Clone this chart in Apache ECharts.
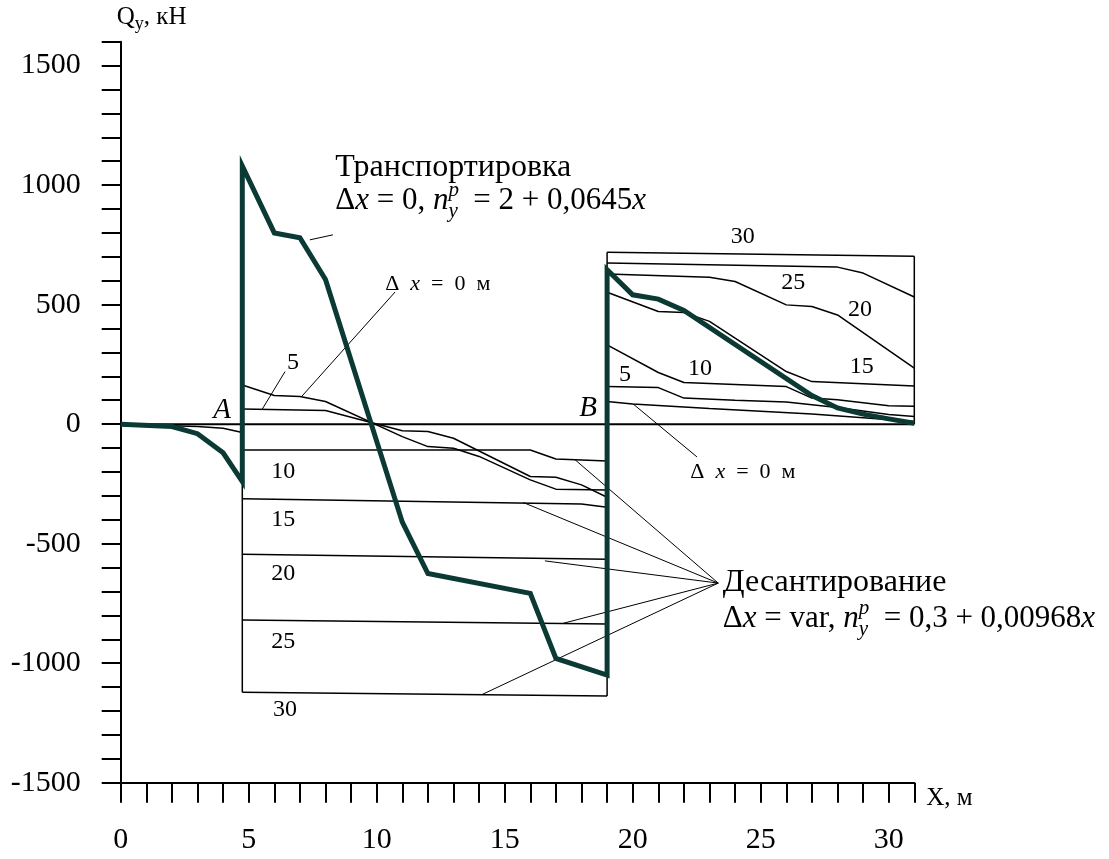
<!DOCTYPE html>
<html>
<head>
<meta charset="utf-8">
<script src="https://cdn.jsdelivr.net/npm/echarts@6/dist/echarts.min.js"></script>
<style>
  html, body { margin: 0; padding: 0; background: #fff; }
  #chart { width: 1109px; height: 859px; }
</style>
</head>
<body>
<div id="chart"></div>
<script>
const SERIF = "'Liberation Serif', 'Times New Roman', serif";

// Транспортировка (Δx = 0): shear force Q, kN, along X, m
const transportX = [0, 2, 3, 4, 4.75, 4.75, 6, 7, 8, 11, 12, 16, 17, 19, 19, 20, 21, 22, 27, 28, 29, 30, 31];
const transportQ = [0, -10, -40, -120, -240, 1080, 800, 780, 605, -410, -625, -708, -980, -1050, 646, 541, 523, 476, 120, 68, 42, 22, 4];

// Десантирование before support A
const preAX = [0, 3, 4, 4.75];
const preAQ = [0, -10, -17, -35];

// Десантирование between A and B, for Δx = 0, 5, 10, 15, 20, 25, 30 m
const abX0 = [4.75, 6, 7, 8, 11, 12, 13, 14, 16, 17, 19];
const abQ0 = [164, 120, 116, 95, -52, -94, -101, -135, -233, -272, -275];
const abX5 = [4.75, 8, 11, 12, 13, 16, 17, 18, 19];
const abQ5 = [63, 57, -28, -31, -59, -219, -222, -254, -306];
const abX10 = [4.75, 16, 17, 19];
const abQ10 = [-108, -108, -146, -154];
const abX15 = [4.75, 18, 19];
const abQ15 = [-312, -334, -348];
const abX20 = [4.75, 19];
const abQ20 = [-544, -565];
const abX25 = [4.75, 19];
const abQ25 = [-819, -836];
const abX30 = [4.75, 19];
const abQ30 = [-1122, -1137];

// Десантирование beyond B (cantilever end), for Δx = 0 … 30 m
const bX0 = [19, 20, 23, 27, 31];
const bQ0 = [95, 84, 65, 42, 11];
const bX5 = [19, 21, 22, 24, 26, 28, 30, 31];
const bQ5 = [157, 153, 109, 100, 93, 70, 40, 32];
const bX10 = [19, 21, 22, 26, 27, 28, 30, 31];
const bQ10 = [332, 216, 174, 157, 109, 102, 77, 75];
const bX15 = [19, 21, 22, 23, 26, 27, 31];
const bQ15 = [552, 471, 467, 430, 220, 178, 160];
const bX20 = [19, 23, 24, 26, 27, 28, 31];
const bQ20 = [628, 615, 597, 499, 492, 457, 234];
const bX25 = [19, 28, 29, 31];
const bQ25 = [674, 657, 632, 532];
const bX30 = [19, 31];
const bQ30 = [719, 702];

// Axis ranges and tick steps
const xMin = 0, xMax = 31, xStep = 1, xLabelStep = 5;
const qMin = -1500, qMax = 1600, qStep = 100, qLabelStep = 500;

// Leader lines (pairs of [X, Q] points)
const leaderTransport = [[7.39, 771], [8.29, 792]];
const leaderZeroAB = [[7.07, 116], [10.72, 553]];
const leaderFiveAB = [[5.53, 63], [6.42, 220]];
const leaderZeroB = [[20.01, 85], [22.51, -137]];
const landingHub = [23.34, -665];
const landingFrom = [[17.75, -149], [15.73, -328], [16.57, -572], [17.29, -833], [14.1, -1132]];

const pts = (xs, ys) => xs.map((x, i) => [x, ys[i]]);
const last = a => a[a.length - 1];

const thin = { color: '#000', width: 1.5 };
const hair = { color: '#000', width: 1 };

function line(name, data, style, z) {
  return {
    name, type: 'line', data, symbol: 'none', silent: true,
    lineStyle: style, z: z || 2, animation: false
  };
}

const series = [];

// zero line
series.push(line('zero', [[xMin, 0], [xMax, 0]], { color: '#000', width: 2 }, 1));

// landing curves
const ab = [[abX0, abQ0], [abX5, abQ5], [abX10, abQ10], [abX15, abQ15], [abX20, abQ20], [abX25, abQ25], [abX30, abQ30]];
const bb = [[bX0, bQ0], [bX5, bQ5], [bX10, bQ10], [bX15, bQ15], [bX20, bQ20], [bX25, bQ25], [bX30, bQ30]];
ab.forEach(([xs, qs], i) => series.push(line('ab' + i, pts(xs, qs), thin)));
bb.forEach(([xs, qs], i) => series.push(line('b' + i, pts(xs, qs), thin)));
series.push(line('preA', pts(preAX, preAQ), thin));

// frame verticals at the supports and at the end
series.push(line('frameA', [[abX0[0], abQ0[0]], [abX30[0], abQ30[0]]], thin));
series.push(line('frameB1', [[last(abX30), last(abQ30)], [last(abX0), last(abQ0)]], thin));
series.push(line('frameB2', [[bX30[0], bQ30[0]], [bX0[0], bQ0[0]]], thin));
series.push(line('frameEnd', [[last(bX30), last(bQ30)], [last(bX30), 0]], thin));

// leaders
series.push(line('ldT', leaderTransport, hair));
series.push(line('ldZ1', leaderZeroAB, hair));
series.push(line('ldF', leaderFiveAB, hair));
series.push(line('ldZ2', leaderZeroB, hair));
landingFrom.forEach((p, i) => series.push(line('ldL' + i, [p, landingHub], hair)));

// transport curve
series.push(line('transport', pts(transportX, transportQ),
  { color: '#0b3a35', width: 5, join: 'miter', miterLimit: 20 }, 5));

// text annotations
const formulaRich = {
  m: { fontFamily: SERIF, fontSize: 31, color: '#000', lineHeight: 42 },
  i: { fontFamily: SERIF, fontSize: 31, color: '#000', fontStyle: 'italic', lineHeight: 42 },
  sp: { fontFamily: SERIF, fontSize: 21, color: '#000', fontStyle: 'italic', verticalAlign: 'top', lineHeight: 24, width: 0 },
  sb: { fontFamily: SERIF, fontSize: 21, color: '#000', fontStyle: 'italic', verticalAlign: 'bottom', lineHeight: 24 }
};
const smallRich = {
  m: { fontFamily: SERIF, fontSize: 22, color: '#000' },
  i: { fontFamily: SERIF, fontSize: 22, color: '#000', fontStyle: 'italic' }
};

function note(x, q, text, opt) {
  return {
    value: [x, q],
    label: Object.assign({
      show: true, formatter: text, color: '#000', fontFamily: SERIF,
      position: 'right', distance: 0
    }, opt)
  };
}

const notes = [
  note(8.38, 1074, 'Транспортировка', { fontSize: 32 }),
  note(8.38, 935, '{m|Δ}{i|x}{m| = 0, }{i|n}{sp|p}{sb|y}{m|  = 2 + 0,0645}{i|x}', { rich: formulaRich }),
  note(23.52, -664, 'Десантирование', { fontSize: 32 }),
  note(23.52, -815, '{m|Δ}{i|x}{m| = var, }{i|n}{sp|p}{sb|y}{m|  = 0,3 + 0,00968}{i|x}', { rich: formulaRich }),
  note(10.33, 587, '{m|Δ  }{i|x}{m|  =  0  м}', { rich: smallRich }),
  note(22.25, -200, '{m|Δ  }{i|x}{m|  =  0  м}', { rich: smallRich }),
  note(3.96, 58, 'A', { position: 'inside', fontSize: 29, fontStyle: 'italic' }),
  note(18.26, 64, 'B', { position: 'inside', fontSize: 29, fontStyle: 'italic' }),
  note(6.73, 257, '5', { position: 'inside', fontSize: 24 }),
  note(6.35, -198, '10', { position: 'inside', fontSize: 24 }),
  note(6.35, -401, '15', { position: 'inside', fontSize: 24 }),
  note(6.35, -627, '20', { position: 'inside', fontSize: 24 }),
  note(6.35, -910, '25', { position: 'inside', fontSize: 24 }),
  note(6.42, -1196, '30', { position: 'inside', fontSize: 24 }),
  note(24.3, 785, '30', { position: 'inside', fontSize: 24 }),
  note(26.27, 590, '25', { position: 'inside', fontSize: 24 }),
  note(28.88, 478, '20', { position: 'inside', fontSize: 24 }),
  note(28.95, 241, '15', { position: 'inside', fontSize: 24 }),
  note(22.63, 234, '10', { position: 'inside', fontSize: 24 }),
  note(19.7, 206, '5', { position: 'inside', fontSize: 24 })
];

series.push({
  name: 'notes', type: 'scatter', symbolSize: 0, silent: true, z: 10,
  itemStyle: { opacity: 1 },
  animation: false, data: notes
});

const chart = echarts.init(document.getElementById('chart'), null, { renderer: 'canvas' });
chart.setOption({
  backgroundColor: '#fff',
  animation: false,
  grid: { left: 120.7, right: 194.7, top: 41.7, bottom: 76.3, containLabel: false },
  xAxis: {
    type: 'value', min: xMin, max: xMax, interval: xStep,
    name: 'X, м', nameLocation: 'end', nameGap: 12,
    nameTextStyle: { fontFamily: SERIF, fontSize: 25, color: '#000', verticalAlign: 'top', padding: [3, 0, 0, 0] },
    axisLine: { onZero: false, lineStyle: { color: '#000', width: 2 } },
    axisTick: { show: true, inside: false, length: 20, lineStyle: { color: '#000', width: 2 } },
    axisLabel: {
      fontFamily: SERIF, fontSize: 30, color: '#000', margin: 42,
      formatter: v => (v % xLabelStep === 0 ? String(v) : '')
    },
    splitLine: { show: false }
  },
  yAxis: {
    type: 'value', min: qMin, max: qMax, interval: qStep,
    name: '{q|Q}{s|y}{q|, кН}', nameLocation: 'end', nameGap: 8,
    nameTextStyle: {
      align: 'left', padding: [0, 0, 0, -4],
      rich: {
        q: { fontFamily: SERIF, fontSize: 25, color: '#000', lineHeight: 32 },
        s: { fontFamily: SERIF, fontSize: 18, color: '#000', verticalAlign: 'bottom', lineHeight: 18 }
      }
    },
    axisLine: { onZero: false, lineStyle: { color: '#000', width: 2 } },
    axisTick: { show: true, inside: false, length: 19, lineStyle: { color: '#000', width: 2 } },
    axisLabel: {
      fontFamily: SERIF, fontSize: 30, color: '#000', margin: 40,
      formatter: v => (v % qLabelStep === 0 ? String(v) : '')
    },
    splitLine: { show: false }
  },
  series
});
</script>
</body>
</html>
